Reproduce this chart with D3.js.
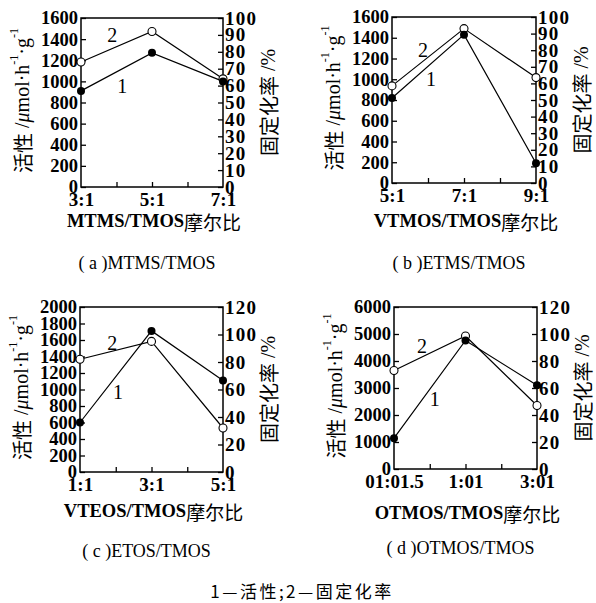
<!DOCTYPE html>
<html>
<head>
<meta charset="utf-8">
<script src="https://cdnjs.cloudflare.com/ajax/libs/d3/7.8.5/d3.min.js"></script>
<style>
  body { margin: 0; background: #fff; }
  text { fill: #000; }
</style>
</head>
<body>
<script>
// data per panel
var catsA = ["3:1", "5:1", "7:1"];
var actA  = [910, 1270, 1000];
var fixA  = [74, 92, 64];

var catsB = ["5:1", "7:1", "9:1"];
var actB  = [820, 1430, 190];
var fixB  = [58.5, 93, 63.5];

var catsC = ["1:1", "3:1", "5:1"];
var actC  = [600, 1710, 1110];
var fixC  = [82, 95, 32];

var catsD = ["01:01.5", "1:01", "3:01"];
var actD  = [1140, 4760, 3100];
var fixD  = [73, 98.5, 47];

var leftTicksAB = d3.range(0, 1601, 200);
var leftTicksC  = d3.range(0, 2001, 200);
var leftTicksD  = d3.range(0, 6001, 1000);
var rightTicksAB = d3.range(0, 101, 10);
var rightTicksCD = d3.range(0, 121, 20);

var xTitles  = ["MTMS/TMOS", "VTMOS/TMOS", "VTEOS/TMOS", "OTMOS/TMOS"];
var subTitles = ["a", "b", "c", "d"];
var subNames  = ["MTMS/TMOS", "ETMS/TMOS", "ETOS/TMOS", "OTMOS/TMOS"];

var width = 596, height = 603;
var svg = d3.select("body").append("svg").attr("width", width).attr("height", height);
svg.append("rect").attr("width", width).attr("height", height).attr("fill", "#fff");

var serif = "'Liberation Serif', 'Times New Roman', serif";
var cjk = "'Noto Sans CJK SC', sans-serif";

var panels = [
  {box: [81, 223, 18, 187],  cats: catsA, act: actA, fix: fixA, lmax: 1600, lt: leftTicksAB, rmax: 100, rt: rightTicksAB,
   lab2: [0.44, 1440], lab1: [0.58, 960], xt: 221, st: 263},
  {box: [392, 536, 17, 183], cats: catsB, act: actB, fix: fixB, lmax: 1600, lt: leftTicksAB, rmax: 100, rt: rightTicksAB,
   lab2: [0.43, 1282], lab1: [0.54, 1002], xt: 221, st: 263},
  {box: [80, 223, 307, 472], cats: catsC, act: actC, fix: fixC, lmax: 2000, lt: leftTicksC, rmax: 120, rt: rightTicksCD,
   lab2: [0.45, 1564], lab1: [0.53, 970], xt: 511, st: 551},
  {box: [394, 537, 307, 469], cats: catsD, act: actD, fix: fixD, lmax: 6000, lt: leftTicksD, rmax: 120, rt: rightTicksCD,
   lab2: [0.39, 4556], lab1: [0.57, 2593], xt: 513, st: 548}
];

panels.forEach(function(p, i) {
  var x0 = p.box[0], x1 = p.box[1], y0 = p.box[2], y1 = p.box[3];
  var x = d3.scaleLinear().domain([0, 2]).range([x0, x1]);
  var yl = d3.scaleLinear().domain([0, p.lmax]).range([y1, y0]);
  var yr = d3.scaleLinear().domain([0, p.rmax]).range([y1, y0]);
  var g = svg.append("g");

  // left axis
  var la = g.append("g").attr("transform", "translate(" + x0 + ",0)")
    .call(d3.axisLeft(yl).tickValues(p.lt).tickSize(-5).tickPadding(3).tickFormat(d3.format("d")));
  // right axis
  var ra = g.append("g").attr("transform", "translate(" + x1 + ",0)")
    .call(d3.axisRight(yr).tickValues(p.rt).tickSize(-5).tickPadding(2).tickFormat(d3.format("d")));
  // bottom axis
  var ba = g.append("g").attr("transform", "translate(0," + y1 + ")")
    .call(d3.axisBottom(x).tickValues([0, 1, 2]).tickSize(0).tickPadding(6).tickFormat(function(d) { return p.cats[d]; }));
  g.append("g").attr("transform", "translate(0," + y1 + ")")
    .call(d3.axisBottom(x).tickValues([0.5, 1, 1.5]).tickSize(-5).tickFormat(""))
    .select(".domain").remove();

  [la, ra, ba].forEach(function(a) { a.select(".domain").remove(); });
  g.selectAll(".tick line").attr("stroke", "#000").attr("stroke-width", 1.3);
  g.selectAll(".tick text").attr("font-family", serif).attr("font-weight", "bold").attr("fill", "#000");
  la.selectAll(".tick text").attr("font-size", 18.5);
  ra.selectAll(".tick text").attr("font-size", 19).attr("letter-spacing", 1.2);
  ba.selectAll(".tick text").attr("font-size", 19);

  // frame
  g.append("rect").attr("x", x0).attr("y", y0).attr("width", x1 - x0).attr("height", y1 - y0)
    .attr("fill", "none").attr("stroke", "#000").attr("stroke-width", 1.5);

  var idx = d3.range(p.cats.length);
  var line = d3.line();
  // series 2: fixation rate (right axis), open circles
  g.append("path").attr("d", line(idx.map(function(k) { return [x(k), yr(p.fix[k])]; })))
    .attr("fill", "none").attr("stroke", "#000").attr("stroke-width", 1.2);
  // series 1: activity (left axis), filled circles
  g.append("path").attr("d", line(idx.map(function(k) { return [x(k), yl(p.act[k])]; })))
    .attr("fill", "none").attr("stroke", "#000").attr("stroke-width", 1.2);
  g.selectAll("circle.f").data(idx).enter().append("circle")
    .attr("cx", function(k) { return x(k); }).attr("cy", function(k) { return yr(p.fix[k]); })
    .attr("r", 4).attr("fill", "#fff").attr("stroke", "#000").attr("stroke-width", 1.1);
  g.selectAll("circle.a").data(idx).enter().append("circle")
    .attr("cx", function(k) { return x(k); }).attr("cy", function(k) { return yl(p.act[k]); })
    .attr("r", 4).attr("fill", "#000");

  // series labels
  [["2", p.lab2], ["1", p.lab1]].forEach(function(l) {
    g.append("text").attr("x", x(l[1][0])).attr("y", yl(l[1][1]))
      .attr("text-anchor", "middle").attr("dominant-baseline", "central")
      .attr("font-family", serif).attr("font-size", 20).text(l[0]);
  });

  // left title
  var lt = g.append("text").attr("transform", "translate(" + (x0 - 59) + "," + ((y0 + y1) / 2 - 2) + ") rotate(-90)")
    .attr("text-anchor", "middle").attr("dominant-baseline", "central").attr("font-size", 20);
  lt.append("tspan").attr("font-family", cjk).text("活性");
  lt.append("tspan").attr("font-family", serif).text(" /");
  lt.append("tspan").attr("font-family", serif).attr("font-style", "italic").text("μ");
  lt.append("tspan").attr("font-family", serif).text("mol·h");
  lt.append("tspan").attr("font-family", serif).attr("font-size", 12).attr("dy", -8).text("-1");
  lt.append("tspan").attr("font-family", serif).attr("dy", 8).text("·g");
  lt.append("tspan").attr("font-family", serif).attr("font-size", 12).attr("dy", -8).text("-1");

  // right title
  var rtt = g.append("text").attr("transform", "translate(" + (x1 + 45) + "," + ((y0 + y1) / 2) + ") rotate(-90)")
    .attr("text-anchor", "middle").attr("dominant-baseline", "central").attr("font-size", 20);
  rtt.append("tspan").attr("font-family", cjk).text("固定化率");
  rtt.append("tspan").attr("font-family", serif).text(" /%");

  // x title
  var xt = g.append("text").attr("x", (x0 + x1) / 2 + 2).attr("y", p.xt)
    .attr("text-anchor", "middle").attr("dominant-baseline", "central");
  xt.append("tspan").attr("font-family", serif).attr("font-weight", "bold").attr("font-size", 18.5).text(xTitles[i]);
  xt.append("tspan").attr("font-family", cjk).attr("font-size", 19).text("摩尔比");

  // subtitle
  var st = g.append("text").attr("x", (x0 + x1) / 2 - 5).attr("y", p.st)
    .attr("text-anchor", "middle").attr("dominant-baseline", "central")
    .attr("font-family", serif).attr("font-size", 18);
  st.append("tspan").text("( ");
  st.append("tspan").text(subTitles[i]);
  st.append("tspan").text(" )");
  st.append("tspan").text(subNames[i]);
});

// bottom legend
svg.append("text").attr("x", 302).attr("y", 590).attr("text-anchor", "middle").attr("dominant-baseline", "central")
  .attr("font-family", cjk).attr("font-size", 17).attr("letter-spacing", 2.5).text("1—活性;2—固定化率");
</script>
</body>
</html>
